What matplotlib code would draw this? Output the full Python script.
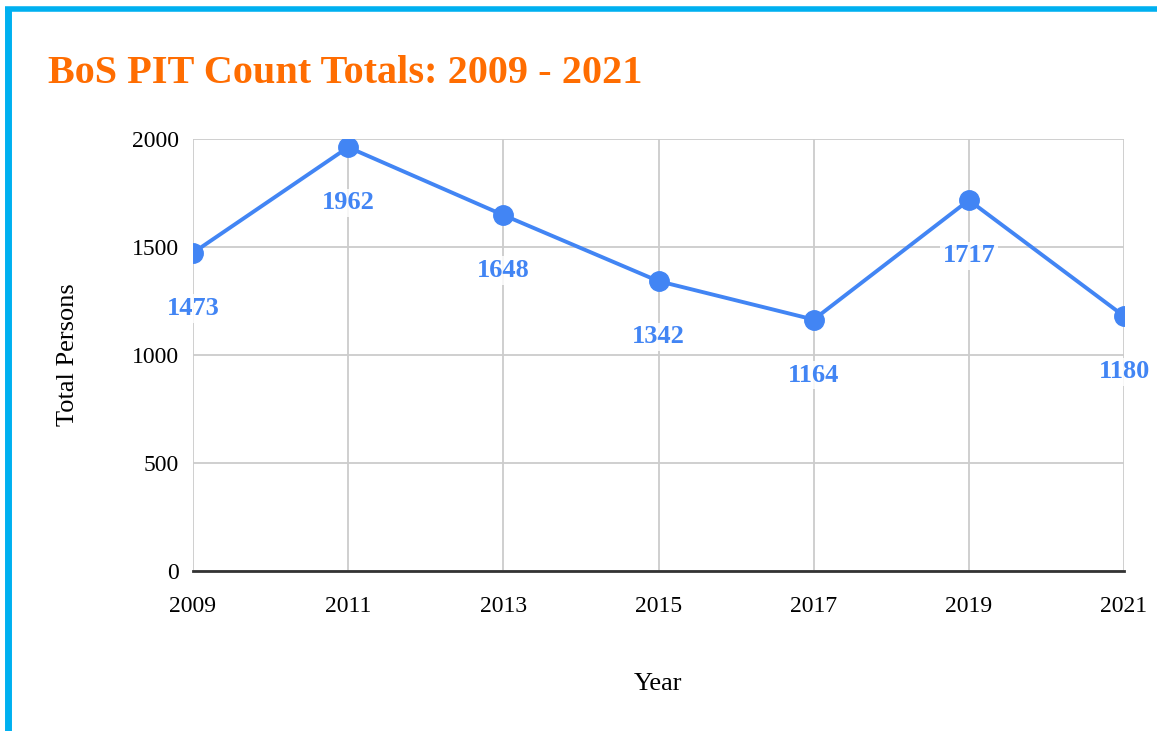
import matplotlib.pyplot as plt
from matplotlib.lines import Line2D

years = [2009, 2011, 2013, 2015, 2017, 2019, 2021]
totals = [1473, 1962, 1648, 1342, 1164, 1717, 1180]
y_ticks = [0, 500, 1000, 1500, 2000]

LINE_COLOR = "#4285F4"
TITLE_COLOR = "#FF6D01"
BORDER_COLOR = "#00B0F0"
SERIF = ["Liberation Serif", "DejaVu Serif"]

plt.rcParams["font.family"] = SERIF

fig = plt.figure(figsize=(11.57, 7.31), dpi=100)
ax = fig.add_axes([0.1668, 0.2189, 0.8047, 0.5909])

ax.plot(years, totals, color=LINE_COLOR, lw=2.8, marker="o", ms=14, zorder=3)

# value labels under each point
for x, y in zip(years, totals):
    ax.annotate(str(y), (x, y), xytext=(0, -40), textcoords="offset points",
                ha="center", va="center", fontsize=19, fontweight="bold",
                color=LINE_COLOR, zorder=4,
                bbox=dict(boxstyle="square,pad=0.1", fc="white", ec="none", alpha=0.85))

ax.set_xlim(years[0], years[-1])
ax.set_ylim(0, 2000)
ax.set_xticks(years)
ax.set_yticks(y_ticks)
ax.tick_params(length=0, labelsize=17)
ax.tick_params(axis="x", pad=18)
ax.tick_params(axis="y", pad=10)
ax.grid(True, color="#cccccc", lw=1.3, zorder=0)
ax.set_axisbelow(True)

for side in ("top", "right", "left"):
    ax.spines[side].set_visible(False)
ax.spines["bottom"].set_color("#333333")
ax.spines["bottom"].set_linewidth(2)

ax.set_xlabel("Year", fontsize=19, labelpad=40)
ax.set_ylabel("Total Persons", fontsize=19, labelpad=38)

fig.text(0.0415, 0.900, "BoS PIT Count Totals: 2009 - 2021", fontsize=29,
         fontweight="bold", color=TITLE_COLOR, va="center", ha="left")

# frame on the left and top edges
fig.add_artist(Line2D([0.0065, 0.0065], [0, 0.988], color=BORDER_COLOR, lw=5,
                      transform=fig.transFigure, solid_capstyle="butt"))
fig.add_artist(Line2D([0.0043, 1], [0.988, 0.988], color=BORDER_COLOR, lw=4,
                      transform=fig.transFigure, solid_capstyle="butt"))

fig.savefig("out.png", dpi=100)
